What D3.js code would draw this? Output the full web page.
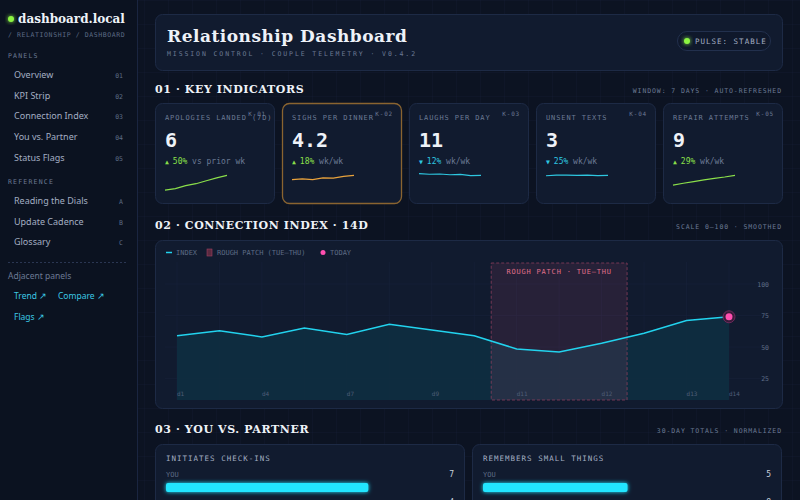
<!DOCTYPE html>
<html><head><meta charset="utf-8">
<script src="https://cdn.jsdelivr.net/npm/d3@7"></script>
<style>
body{margin:0;background:#0b1220;overflow:hidden}
svg{display:block}
.mono{font-family:"DejaVu Sans Mono",monospace}
.serif{font-family:"DejaVu Serif",serif;font-weight:bold}
.sans{font-family:"Noto Sans",sans-serif}
</style></head>
<body><div id="viz"></div>
<script>
// ---- data ----
var panels = ["Overview","KPI Strip","Connection Index","You vs. Partner","Status Flags"];
var panelNums = ["01","02","03","04","05"];
var refs = ["Reading the Dials","Update Cadence","Glossary"];
var refKeys = ["A","B","C"];

var kpiNames = ["APOLOGIES LANDED (7D)","SIGHS PER DINNER","LAUGHS PER DAY","UNSENT TEXTS","REPAIR ATTEMPTS"];
var kpiIds = ["K-01","K-02","K-03","K-04","K-05"];
var kpiValues = ["6","4.2","11","3","9"];
var kpiDeltas = ["50%","18%","12%","25%","29%"];
var kpiUp = [true,true,false,false,true];
var kpiNotes = ["vs prior wk","wk/wk","wk/wk","wk/wk","wk/wk"];
var kpiSpark = [
  [3,3.3,3.9,4.3,4.9,5.5,6],
  [3.6,3.7,3.6,3.85,3.8,4.05,4.2],
  [12,11.8,11.9,11.6,11.75,11.3,11.35],
  [3.22,3.28,3.3,3.26,3.3,3.24,3.26],
  [6,6.6,7.1,7.6,8.1,8.5,9]
];

var days = ["d1","d2","d3","d4","d5","d6","d7","d8","d9","d10","d11","d12","d13","d14"];
var tickLabels = ["d1","d4","d7","d9","d11","d12","d13","d14"];
var tickIdx = [0,2,4,6,8,10,12,13];
var index = [59,63,58,65,60,68,63.5,59,48.5,46,53,61,71,74];
var yTicks = [25,50,75,100];
var rough = [7.4,10.6];

var cmpTitles = ["INITIATES CHECK-INS","REMEMBERS SMALL THINGS"];
var youVals = [7,5];
var partnerVals = [4,8];

// ---- svg ----
var W = 800, H = 500;
var svg = d3.select("#viz").append("svg").attr("width",W).attr("height",H);
var defs = svg.append("defs");
var pat = defs.append("pattern").attr("id","grid").attr("width",24).attr("height",24).attr("patternUnits","userSpaceOnUse");
pat.append("path").attr("d","M24 0H0V24").attr("fill","none").attr("stroke","#16203a").attr("stroke-width",0.5);
var glow = defs.append("filter").attr("id","glow").attr("x","-50%").attr("y","-50%").attr("width","200%").attr("height","200%");
glow.append("feGaussianBlur").attr("stdDeviation",2).attr("result","b");
var fm = glow.append("feMerge"); fm.append("feMergeNode").attr("in","b"); fm.append("feMergeNode").attr("in","SourceGraphic");

svg.append("rect").attr("width",W).attr("height",H).attr("fill","#0c1322");
svg.append("rect").attr("x",138).attr("width",W-138).attr("height",H).attr("fill","url(#grid)");

// sidebar
var side = svg.append("g");
side.append("rect").attr("width",137).attr("height",H).attr("fill","#0b1220");
side.append("line").attr("x1",137.5).attr("x2",137.5).attr("y2",H).attr("stroke","#1a2540");
side.append("circle").attr("cx",11).attr("cy",19).attr("r",3).attr("fill","#8cf542").attr("filter","url(#glow)");
side.append("text").attr("class","serif").attr("x",18).attr("y",23).attr("font-size",12).attr("fill","#eef2f8").text("dashboard.local");
side.append("text").attr("class","mono").attr("x",8).attr("y",37).attr("font-size",6.5).attr("letter-spacing",0.6).attr("fill","#5d6b85").text("/ RELATIONSHIP / DASHBOARD");
function sideSection(title, y0, items, keys){
  side.append("text").attr("class","mono").attr("x",8).attr("y",y0).attr("font-size",6.5).attr("letter-spacing",1.2).attr("fill","#6b7a94").text(title);
  items.forEach(function(t,i){
    var y = y0 + 20 + i*20.7;
    side.append("text").attr("class","sans").attr("x",14).attr("y",y).attr("font-size",9).attr("fill","#a3aec2").text(t);
    side.append("text").attr("class","mono").attr("x",123).attr("y",y).attr("text-anchor","end").attr("font-size",6.5).attr("fill","#5d6b85").text(keys[i]);
  });
}
sideSection("PANELS",58,panels,panelNums);
sideSection("REFERENCE",184,refs,refKeys);
side.append("line").attr("x1",8).attr("x2",128).attr("y1",262.5).attr("y2",262.5).attr("stroke","#2a3652").attr("stroke-dasharray","2,2");
side.append("text").attr("class","sans").attr("x",8).attr("y",279).attr("font-size",8.5).attr("fill","#6b7a94").text("Adjacent panels");
[["Trend ↗",14,299],["Compare ↗",58,299],["Flags ↗",14,320]].forEach(function(l){
  side.append("text").attr("class","sans").attr("x",l[1]).attr("y",l[2]).attr("font-size",8.5).attr("fill","#3cc8e4").text(l[0]);
});

// header card
function card(x,y,w,h,stroke){
  return svg.append("rect").attr("x",x+.5).attr("y",y+.5).attr("width",w).attr("height",h).attr("rx",7)
    .attr("fill","#111b2f").attr("stroke",stroke||"#1d2a45");
}
card(155,14,627,56);
svg.append("text").attr("class","serif").attr("x",167).attr("y",42).attr("font-size",17).attr("fill","#eef2f8").attr("letter-spacing",0.5).text("Relationship Dashboard");
svg.append("text").attr("class","mono").attr("x",167).attr("y",56).attr("font-size",6.5).attr("letter-spacing",1.9).attr("fill","#6b7a94").text("MISSION CONTROL · COUPLE TELEMETRY · V0.4.2");
svg.append("rect").attr("x",677.5).attr("y",31.5).attr("width",93).attr("height",19).attr("rx",9.5).attr("fill","#0f182b").attr("stroke","#22304d");
svg.append("circle").attr("cx",687).attr("cy",41).attr("r",3).attr("fill","#8cf542").attr("filter","url(#glow)");
svg.append("text").attr("class","mono").attr("x",695).attr("y",44).attr("font-size",7.5).attr("letter-spacing",1).attr("fill","#a3aec2").text("PULSE: STABLE");

function sectionHead(y,title,right){
  svg.append("text").attr("class","serif").attr("x",155).attr("y",y).attr("font-size",11).attr("letter-spacing",0.6).attr("fill","#eef2f8").text(title);
  svg.append("text").attr("class","mono").attr("x",782).attr("y",y).attr("text-anchor","end").attr("font-size",6.5).attr("letter-spacing",0.9).attr("fill","#6b7a94").text(right);
}
sectionHead(93,"01 · KEY INDICATORS","WINDOW: 7 DAYS · AUTO-REFRESHED");
sectionHead(229,"02 · CONNECTION INDEX · 14D","SCALE 0–100 · SMOOTHED");
sectionHead(433,"03 · YOU VS. PARTNER","30-DAY TOTALS · NORMALIZED");

// KPI cards
var kpiX = d3.scaleBand().domain(d3.range(5)).range([155,790]).paddingInner(0);
var colors = ["#8be04a","#e8a23c","#2ec7e0","#2ec7e0","#8be04a"];
kpiNames.forEach(function(n,i){
  var x = 155 + i*127, g = svg.append("g").attr("transform","translate("+x+",103)");
  g.append("rect").attr("x",.5).attr("y",.5).attr("width",119).attr("height",100).attr("rx",7)
    .attr("fill","#111b2f").attr("stroke", i===1 ? "#8a6430" : "#1d2a45").attr("stroke-width", i===1?1.3:1);
  if(i===1) g.append("line").attr("x1",20).attr("x2",100).attr("y1",1).attr("y2",1).attr("stroke","#e8a23c").attr("stroke-width",1.2).attr("filter","url(#glow)");
  g.append("text").attr("class","mono").attr("x",10).attr("y",17).attr("font-size",7).attr("letter-spacing",0.9).attr("fill","#6b7a94").text(n);
  g.append("text").attr("class","mono").attr("x",111).attr("y",13).attr("text-anchor","end").attr("font-size",6).attr("letter-spacing",0.8).attr("fill","#6b7a94").text(kpiIds[i]);
  g.append("text").attr("class","mono").attr("x",10).attr("y",44).attr("font-size",20).attr("font-weight","bold").attr("fill","#eef2f8").text(kpiValues[i]);
  var c = kpiUp[i] ? "#8be04a" : "#2ec7e0";
  var t = g.append("text").attr("class","mono").attr("x",10).attr("y",61).attr("font-size",8);
  t.append("tspan").attr("fill",c).attr("font-size",6.5).text(kpiUp[i]?"▲ ":"▼ ");
  t.append("tspan").attr("fill",c).text(kpiDeltas[i]);
  t.append("tspan").attr("fill","#6b7a94").text(" "+kpiNotes[i]);
  var data = kpiSpark[i], last = data[data.length-1];
  var sx = d3.scaleLinear().domain([0,data.length-1]).range([10,72]);
  var sy = d3.scaleLinear().domain([0.4,1.15]).range([90,68]);
  g.append("path").datum(data).attr("fill","none").attr("stroke",colors[i]).attr("stroke-width",1.2)
    .attr("d", d3.line().x(function(d,j){return sx(j);}).y(function(d){return sy(d/last);}));
});

// connection index chart
card(155,240,627,168);
var x = d3.scaleLinear().domain([0,days.length-1]).range([177,729]);
var y = d3.scaleLinear().domain([8,100]).range([400,284]);
var cg = svg.append("g");
// faint grid
cg.selectAll(".gx").data(d3.range(0,14)).enter().append("line")
  .attr("x1",function(d){return x(d);}).attr("x2",function(d){return x(d);}).attr("y1",262).attr("y2",400)
  .attr("stroke","#17223a").attr("stroke-width",0.6);
cg.selectAll(".gy").data(yTicks).enter().append("line")
  .attr("x1",165).attr("x2",770).attr("y1",function(d){return y(d);}).attr("y2",function(d){return y(d);})
  .attr("stroke","#17223a").attr("stroke-width",0.6);
cg.append("path").datum(index).attr("fill","#0f2d40").attr("opacity",0.95)
  .attr("d", d3.area().x(function(d,i){return x(i);}).y0(y(8)).y1(function(d){return y(d);}));
cg.append("rect").attr("x",x(rough[0])).attr("y",263).attr("width",x(rough[1])-x(rough[0])).attr("height",137)
  .attr("fill","#c04a7a").attr("fill-opacity",0.13).attr("stroke","#8a3d5c").attr("stroke-dasharray","3,2").attr("stroke-width",0.8);
cg.append("text").attr("class","mono").attr("x",(x(rough[0])+x(rough[1]))/2).attr("y",274).attr("text-anchor","middle")
  .attr("font-size",7).attr("letter-spacing",0.8).attr("fill","#e0708a").text("ROUGH PATCH · TUE–THU");
cg.append("path").datum(index).attr("fill","none").attr("stroke","#22d3ee").attr("stroke-width",1.5)
  .attr("d", d3.line().x(function(d,i){return x(i);}).y(function(d){return y(d);}));
var li = index.length-1;
cg.append("circle").attr("cx",x(li)).attr("cy",y(index[li])).attr("r",6).attr("fill","#3a1a3a").attr("stroke","#6a2a5a");
cg.append("circle").attr("cx",x(li)).attr("cy",y(index[li])).attr("r",3.5).attr("fill","#ff4fb0");
cg.selectAll(".yl").data(yTicks).enter().append("text").attr("class","mono")
  .attr("x",769).attr("y",function(d){return y(d)+2.5;}).attr("text-anchor","end").attr("font-size",6.5).attr("fill","#5d6b85").text(function(d){return d;});
cg.selectAll(".xl").data(tickIdx).enter().append("text").attr("class","mono")
  .attr("x",function(d){return x(d);}).attr("y",396).attr("font-size",6).attr("fill","#4f5d77")
  .text(function(d,i){return tickLabels[i];});
// legend
cg.append("line").attr("x1",166).attr("x2",172).attr("y1",252.5).attr("y2",252.5).attr("stroke","#22d3ee").attr("stroke-width",1.5);
cg.append("text").attr("class","mono").attr("x",176).attr("y",255).attr("font-size",7).attr("fill","#5d6b85").text("INDEX");
cg.append("rect").attr("x",207).attr("y",249).attr("width",5).attr("height",7).attr("fill","#5a2a40").attr("stroke","#a04060").attr("stroke-width",0.6);
cg.append("text").attr("class","mono").attr("x",217).attr("y",255).attr("font-size",7).attr("fill","#5d6b85").text("ROUGH PATCH (TUE–THU)");
cg.append("circle").attr("cx",323).attr("cy",252.5).attr("r",2.5).attr("fill","#ff4fb0");
cg.append("text").attr("class","mono").attr("x",330).attr("y",255).attr("font-size",7).attr("fill","#5d6b85").text("TODAY");

// compare cards
var bx = d3.scaleLinear().domain([0,10]).range([0,289]);
cmpTitles.forEach(function(t,i){
  var ox = 155 + i*317;
  card(ox,444,309,80);
  svg.append("text").attr("class","mono").attr("x",ox+11).attr("y",461).attr("font-size",7.5).attr("letter-spacing",1).attr("fill","#a3aec2").text(t);
  [["YOU",youVals[i],"#22e5ff"],["PARTNER",partnerVals[i],"#e8a23c"]].forEach(function(r,k){
    var yy = 477 + k*28;
    svg.append("text").attr("class","mono").attr("x",ox+11).attr("y",yy).attr("font-size",7).attr("fill","#5d6b85").text(r[0]);
    svg.append("text").attr("class","mono").attr("x",ox+299).attr("y",yy).attr("text-anchor","end").attr("font-size",8).attr("fill","#c8d0dc").text(r[1]);
    svg.append("rect").attr("x",ox+11).attr("y",yy+6).attr("width",bx(r[1])).attr("height",9).attr("rx",2)
      .attr("fill",r[2]).attr("filter","url(#glow)");
  });
});
</script></body></html>
